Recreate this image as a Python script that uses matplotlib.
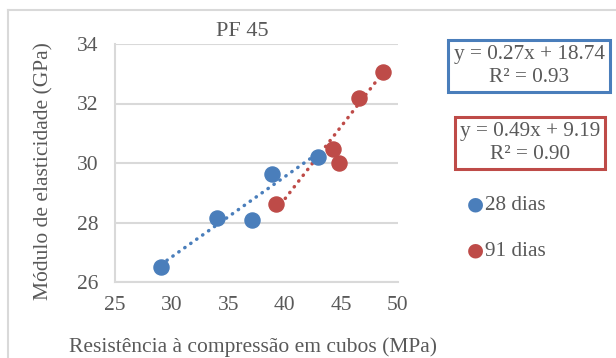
import numpy as np
import matplotlib.pyplot as plt
from matplotlib.lines import Line2D

# PF 45 - modulo de elasticidade vs resistencia a compressao
x_28 = [29.06, 33.98, 37.13, 38.90, 42.96]
y_28 = [26.51, 28.14, 28.07, 29.62, 30.21]
x_91 = [39.25, 44.29, 44.76, 46.58, 48.65]
y_91 = [28.63, 30.48, 30.00, 32.20, 33.07]

# linhas de tendencia (y = a*x + b)
a_28, b_28, r2_28 = 0.27, 18.74, 0.93
a_91, b_91, r2_91 = 0.49, 9.19, 0.90

x_ticks = [25, 30, 35, 40, 45, 50]
y_ticks = [26, 28, 30, 32, 34]

azul = "#4a7ebb"
vermelho = "#be4b48"
cinza = "#595959"

plt.rcParams["font.family"] = ["Liberation Serif", "DejaVu Serif"]

fig = plt.figure(figsize=(6.16, 3.58), dpi=100)
W, H = 616, 358
ax = fig.add_axes([115 / W, 1 - 282 / H, (398 - 115) / W, (282 - 44) / H])

# moldura do grafico
fig.add_artist(Line2D([8 / W, 1], [1 - 10 / H, 1 - 10 / H], color="#d9d9d9", lw=1.5))
fig.add_artist(Line2D([8 / W, 8 / W], [0, 1 - 10 / H], color="#d9d9d9", lw=1.5))

ax.set_xlim(25, 50)
ax.set_ylim(26, 34)
ax.set_xticks(x_ticks)
ax.set_yticks(y_ticks)
ax.grid(axis="y", color="#d9d9d9", lw=1.5)
ax.set_axisbelow(True)
for s in ["top", "right"]:
    ax.spines[s].set_visible(False)
for s in ["left", "bottom"]:
    ax.spines[s].set_color("#d9d9d9")
    ax.spines[s].set_linewidth(1.5)
ax.tick_params(length=0, labelsize=15.5, labelcolor=cinza)
ax.tick_params(axis="y", pad=12)
ax.tick_params(axis="x", pad=10)

xl = np.array([min(x_28), max(x_28)])
ax.plot(xl, a_28 * xl + b_28, ls=(0, (0.1, 2.0)), dash_capstyle="round", color=azul, lw=2.5)
xl = np.array([min(x_91), max(x_91)])
ax.plot(xl, a_91 * xl + b_91, ls=(0, (0.1, 2.0)), dash_capstyle="round", color=vermelho, lw=2.5)

ax.scatter(x_28, y_28, s=118, color=azul, zorder=3)
ax.scatter(x_91, y_91, s=118, color=vermelho, zorder=3)

fig.text(242 / W, 1 - 31 / H, "PF 45", fontsize=16, color=cinza, ha="center", va="center")
ax.set_ylabel("Módulo de elasticidade (GPa)", fontsize=15.5, color=cinza, va="center")
ax.yaxis.set_label_coords(-0.25, 0.468)
ax.set_xlabel("Resistência à compressão em cubos (MPa)", fontsize=15.5, color=cinza, va="center")
ax.xaxis.set_label_coords(0.487, -0.273)

# equacoes
caixa = dict(fontsize=15.3, color=cinza, linespacing=1.25, ha="center", va="center")
fig.text(529 / W, 1 - 66 / H, f"y = {a_28}x + {b_28}\nR² = {r2_28:.2f}",
         bbox=dict(boxstyle="square,pad=0.25", fc="white", ec=azul, lw=2.2), **caixa)
fig.text(530 / W, 1 - 143 / H, f"y = {a_91}x + {b_91}\nR² = {r2_91:.2f}",
         bbox=dict(boxstyle="square,pad=0.25", fc="white", ec=vermelho, lw=2.2), **caixa)

# legenda
fig.text(475 / W, 1 - 204 / H, "●", color=azul, fontsize=14, ha="center", va="center",
         family="DejaVu Sans")
fig.text(485 / W, 1 - 206 / H, "28 dias", color=cinza, fontsize=15.3, va="center")
fig.text(475 / W, 1 - 250 / H, "●", color=vermelho, fontsize=14, ha="center", va="center",
         family="DejaVu Sans")
fig.text(485 / W, 1 - 252 / H, "91 dias", color=cinza, fontsize=15.3, va="center")

fig.savefig("out.png", dpi=100)
